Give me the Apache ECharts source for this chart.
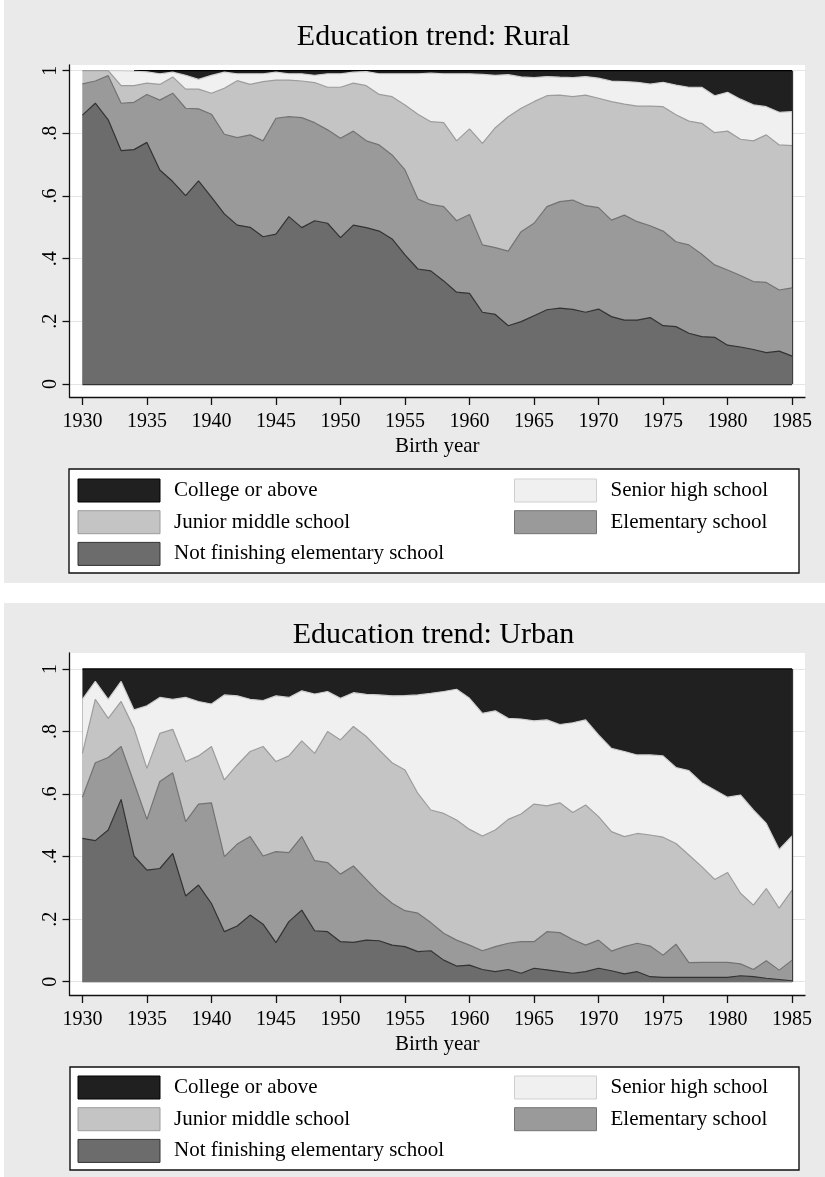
<!DOCTYPE html>
<html>
<head>
<meta charset="utf-8">
<script src="https://cdn.jsdelivr.net/npm/echarts@6/dist/echarts.min.js"></script>
<style>
  html, body { margin: 0; padding: 0; background: #ffffff; }
  #chart { width: 825px; height: 1177px; }
</style>
</head>
<body>
<div id="chart"></div>
<script>
// Birth cohorts on the x axis
const years = [
  1930, 1931, 1932, 1933, 1934, 1935, 1936, 1937, 1938, 1939,
  1940, 1941, 1942, 1943, 1944, 1945, 1946, 1947, 1948, 1949,
  1950, 1951, 1952, 1953, 1954, 1955, 1956, 1957, 1958, 1959,
  1960, 1961, 1962, 1963, 1964, 1965, 1966, 1967, 1968, 1969,
  1970, 1971, 1972, 1973, 1974, 1975, 1976, 1977, 1978, 1979,
  1980, 1981, 1982, 1983, 1984, 1985
];
const xTicks = [1930, 1935, 1940, 1945, 1950, 1955, 1960, 1965, 1970, 1975, 1980, 1985];
const yTicks = [0, 0.2, 0.4, 0.6, 0.8, 1];
const yTickLabels = ['0', '.2', '.4', '.6', '.8', '1'];

const levelNames = [
  'College or above',
  'Senior high school',
  'Junior middle school',
  'Elementary school',
  'Not finishing elementary school'
];

// Cumulative shares: fraction of each cohort with at most the given level.
// Rural
const ruralNotFinished = [
  0.858, 0.896, 0.843, 0.745, 0.748, 0.771, 0.683, 0.646, 0.601, 0.648,
  0.596, 0.543, 0.507, 0.500, 0.470, 0.478, 0.534, 0.499, 0.521, 0.513,
  0.467, 0.507, 0.499, 0.488, 0.463, 0.412, 0.367, 0.361, 0.329, 0.293,
  0.289, 0.229, 0.222, 0.186, 0.199, 0.218, 0.237, 0.242, 0.238, 0.229,
  0.239, 0.215, 0.204, 0.204, 0.212, 0.186, 0.183, 0.162, 0.151, 0.149,
  0.124, 0.118, 0.110, 0.100, 0.105, 0.089
];
const ruralElementary = [
  0.958, 0.967, 0.984, 0.896, 0.899, 0.924, 0.906, 0.928, 0.880, 0.878,
  0.861, 0.797, 0.786, 0.795, 0.776, 0.848, 0.853, 0.850, 0.834, 0.811,
  0.784, 0.807, 0.776, 0.763, 0.731, 0.683, 0.590, 0.573, 0.566, 0.521,
  0.541, 0.444, 0.435, 0.424, 0.486, 0.513, 0.566, 0.582, 0.587, 0.569,
  0.563, 0.523, 0.539, 0.518, 0.505, 0.488, 0.454, 0.444, 0.414, 0.380,
  0.364, 0.346, 0.327, 0.324, 0.300, 0.307
];
const ruralJunior = [
  1.000, 1.000, 1.000, 0.952, 0.952, 0.960, 0.956, 0.980, 0.941, 0.941,
  0.928, 0.944, 0.968, 0.956, 0.965, 0.970, 0.970, 0.967, 0.962, 0.947,
  0.947, 0.960, 0.952, 0.924, 0.917, 0.890, 0.861, 0.837, 0.834, 0.776,
  0.814, 0.768, 0.818, 0.853, 0.880, 0.901, 0.920, 0.922, 0.917, 0.922,
  0.912, 0.901, 0.893, 0.887, 0.887, 0.885, 0.859, 0.839, 0.832, 0.802,
  0.807, 0.781, 0.776, 0.795, 0.763, 0.761
];
const ruralSenior = [
  1.000, 1.000, 1.000, 1.000, 0.998, 0.996, 0.990, 0.995, 0.985, 0.972,
  0.985, 0.995, 0.990, 0.990, 0.990, 0.995, 0.990, 0.990, 0.985, 0.990,
  0.990, 0.995, 0.997, 0.990, 0.990, 0.990, 0.990, 0.992, 0.990, 0.990,
  0.990, 0.988, 0.985, 0.987, 0.980, 0.978, 0.981, 0.979, 0.978, 0.981,
  0.976, 0.967, 0.965, 0.963, 0.957, 0.963, 0.954, 0.947, 0.947, 0.920,
  0.931, 0.909, 0.891, 0.885, 0.867, 0.869
];
const ruralCollege = [
  null, null, null, null, 1, 1, 1, 1, 1, 1,
  1, 1, 1, 1, 1, 1, 1, 1, 1, 1,
  1, 1, 1, 1, 1, 1, 1, 1, 1, 1,
  1, 1, 1, 1, 1, 1, 1, 1, 1, 1,
  1, 1, 1, 1, 1, 1, 1, 1, 1, 1,
  1, 1, 1, 1, 1, 1
];

// Urban
const urbanNotFinished = [
  0.458, 0.451, 0.485, 0.583, 0.402, 0.357, 0.362, 0.410, 0.274, 0.309,
  0.250, 0.160, 0.178, 0.213, 0.184, 0.125, 0.192, 0.229, 0.163, 0.160,
  0.128, 0.126, 0.133, 0.131, 0.117, 0.112, 0.096, 0.099, 0.069, 0.050,
  0.053, 0.039, 0.032, 0.039, 0.027, 0.043, 0.038, 0.032, 0.027, 0.032,
  0.043, 0.035, 0.025, 0.032, 0.016, 0.014, 0.014, 0.014, 0.014, 0.014,
  0.014, 0.019, 0.016, 0.011, 0.007, 0.003
];
const urbanElementary = [
  0.590, 0.700, 0.717, 0.752, 0.636, 0.519, 0.640, 0.668, 0.512, 0.568,
  0.572, 0.400, 0.440, 0.464, 0.402, 0.416, 0.413, 0.464, 0.387, 0.381,
  0.344, 0.370, 0.327, 0.285, 0.251, 0.227, 0.219, 0.189, 0.155, 0.133,
  0.117, 0.099, 0.112, 0.123, 0.128, 0.128, 0.160, 0.157, 0.135, 0.117,
  0.133, 0.098, 0.112, 0.123, 0.114, 0.085, 0.120, 0.061, 0.062, 0.062,
  0.062, 0.057, 0.039, 0.067, 0.037, 0.069
];
const urbanJunior = [
  0.730, 0.903, 0.842, 0.896, 0.810, 0.682, 0.794, 0.807, 0.704, 0.722,
  0.752, 0.645, 0.693, 0.736, 0.752, 0.704, 0.722, 0.770, 0.730, 0.800,
  0.773, 0.816, 0.784, 0.741, 0.700, 0.677, 0.602, 0.549, 0.538, 0.517,
  0.487, 0.466, 0.485, 0.519, 0.536, 0.568, 0.562, 0.572, 0.541, 0.565,
  0.528, 0.480, 0.464, 0.474, 0.469, 0.462, 0.442, 0.405, 0.368, 0.327,
  0.349, 0.283, 0.245, 0.298, 0.235, 0.293
];
const urbanSenior = [
  0.903, 0.960, 0.903, 0.960, 0.869, 0.882, 0.909, 0.903, 0.909, 0.896,
  0.888, 0.917, 0.914, 0.903, 0.899, 0.914, 0.909, 0.930, 0.920, 0.928,
  0.906, 0.924, 0.919, 0.917, 0.914, 0.915, 0.917, 0.922, 0.928, 0.935,
  0.906, 0.858, 0.866, 0.842, 0.840, 0.834, 0.837, 0.822, 0.828, 0.837,
  0.789, 0.746, 0.736, 0.725, 0.725, 0.722, 0.685, 0.675, 0.636, 0.613,
  0.590, 0.597, 0.549, 0.506, 0.423, 0.466
];
const urbanCollege = [
  1, 1, 1, 1, 1, 1, 1, 1, 1, 1,
  1, 1, 1, 1, 1, 1, 1, 1, 1, 1,
  1, 1, 1, 1, 1, 1, 1, 1, 1, 1,
  1, 1, 1, 1, 1, 1, 1, 1, 1, 1,
  1, 1, 1, 1, 1, 1, 1, 1, 1, 1,
  1, 1, 1, 1, 1, 1
];

// ---- styling ----
const SERIF = '"Liberation Serif", "DejaVu Serif", "Times New Roman", serif';
const PANEL_GRAY = '#eaeaea';
const fills = ['#202020', '#f0f0f0', '#c4c4c4', '#9a9a9a', '#6c6c6c'];
const outlines = ['#000000', '#cfcfcf', '#9c9c9c', '#737373', '#333333'];

const panels = [
  {
    title: 'Education trend: Rural',
    cum: [ruralCollege, ruralSenior, ruralJunior, ruralElementary, ruralNotFinished],
    gridTop: 65, axisY: 397, yMin: -0.0415, yMax: 1.018,
    titleTop: 22, legendTop: 478.5, box: [69, 469, 730, 104],
    bg: [4, 0, 821, 583]
  },
  {
    title: 'Education trend: Urban',
    cum: [urbanCollege, urbanSenior, urbanJunior, urbanElementary, urbanNotFinished],
    gridTop: 653, axisY: 995, yMin: -0.0425, yMax: 1.051,
    titleTop: 620, legendTop: 1075.5, box: [70, 1067, 729, 103],
    bg: [4, 603, 821, 574]
  }
];

function yLabel(v) {
  for (let i = 0; i < yTicks.length; i++) {
    if (Math.abs(yTicks[i] - v) < 1e-9) return yTickLabels[i];
  }
  return '';
}

const option = {
  animation: false,
  backgroundColor: '#ffffff',
  title: [],
  grid: [],
  xAxis: [],
  yAxis: [],
  legend: [],
  series: [],
  graphic: []
};

panels.forEach((p, pi) => {
  // gray panel background and white legend frame
  option.graphic.push({
    type: 'rect', z: -100, silent: true,
    shape: { x: p.bg[0], y: p.bg[1], width: p.bg[2], height: p.bg[3] },
    style: { fill: PANEL_GRAY }
  });
  option.graphic.push({
    type: 'rect', z: 1, silent: true,
    shape: { x: p.box[0], y: p.box[1], width: p.box[2], height: p.box[3] },
    style: { fill: '#ffffff', stroke: '#111111', lineWidth: 1.4 }
  });

  option.title.push({
    text: p.title,
    left: 433.5,
    top: p.titleTop,
    textAlign: 'center',
    padding: 0,
    textStyle: { fontFamily: SERIF, fontSize: 30, fontWeight: 'normal', color: '#000' }
  });

  option.grid.push({
    left: 69.5,
    right: 20,
    top: p.gridTop,
    height: p.axisY - p.gridTop,
    show: true,
    backgroundColor: '#ffffff',
    borderWidth: 0
  });

  option.xAxis.push({
    type: 'value',
    gridIndex: pi,
    min: 1929,
    max: 1986,
    name: 'Birth year',
    nameLocation: 'middle',
    nameGap: 39,
    nameTextStyle: { fontFamily: SERIF, fontSize: 21, color: '#000' },
    axisLine: { onZero: false, lineStyle: { color: '#111', width: 1.3 } },
    axisTick: { customValues: xTicks, length: 8, lineStyle: { color: '#111', width: 1.3 } },
    axisLabel: {
      customValues: xTicks,
      margin: 15,
      fontFamily: SERIF, fontSize: 20, color: '#000',
      formatter: v => String(v)
    },
    splitLine: { show: false }
  });

  option.yAxis.push({
    type: 'value',
    gridIndex: pi,
    min: p.yMin,
    max: p.yMax,
    axisLine: { show: true, onZero: false, lineStyle: { color: '#111', width: 1.3 } },
    axisTick: { show: true, customValues: yTicks, length: 7, lineStyle: { color: '#111', width: 1.3 } },
    axisLabel: {
      customValues: yTicks,
      rotate: 90,
      margin: 9,
      fontFamily: SERIF, fontSize: 20, color: '#000',
      formatter: yLabel
    },
    splitLine: { show: true, lineStyle: { color: '#e4e4e4', width: 1 } }
  });

  // areas drawn from the outermost cumulative share inward
  p.cum.forEach((arr, li) => {
    const s = {
      name: levelNames[li],
      type: 'line',
      xAxisIndex: pi,
      yAxisIndex: pi,
      z: 2 + li,
      showSymbol: false,
      symbol: 'none',
      silent: true,
      connectNulls: false,
      data: years.map((y, i) => [y, arr[i] == null ? '-' : arr[i]]),
      itemStyle: { color: fills[li], borderColor: outlines[li] },
      lineStyle: { color: outlines[li], width: 1.2 },
      areaStyle: { color: fills[li], opacity: 1, origin: 'auto' }
    };
    if (li === p.cum.length - 1) {
      const first = years[0], last = years[years.length - 1];
      s.markLine = {
        silent: true,
        symbol: ['none', 'none'],
        label: { show: false },
        lineStyle: { color: '#333333', width: 1.3, type: 'solid' },
        data: [
          [{ coord: [last, 0] }, { coord: [last, 1] }],
          [{ coord: [first, 0] }, { coord: [last, 0] }]
        ]
      };
    }
    option.series.push(s);
  });

  // legend: two columns, filled row by row
  const legendItem = li => ({
    name: levelNames[li],
    itemStyle: { color: fills[li], borderColor: li === 0 ? '#000' : outlines[li], borderWidth: 1 }
  });
  const legendBase = {
    orient: 'vertical',
    top: p.legendTop,
    padding: 0,
    icon: 'rect',
    itemWidth: 82,
    itemHeight: 23,
    itemGap: 7.7,
    selectedMode: false,
    z: 5,
    textStyle: { fontFamily: SERIF, fontSize: 21, color: '#000', padding: [0, 0, 0, 9] }
  };
  option.legend.push(Object.assign({}, legendBase, { left: 77.5, data: [0, 2, 4].map(legendItem) }));
  option.legend.push(Object.assign({}, legendBase, { left: 514, data: [1, 3].map(legendItem) }));
});

const chart = echarts.init(document.getElementById('chart'), null, { renderer: 'canvas', width: 825, height: 1177 });
chart.setOption(option);
</script>
</body>
</html>
